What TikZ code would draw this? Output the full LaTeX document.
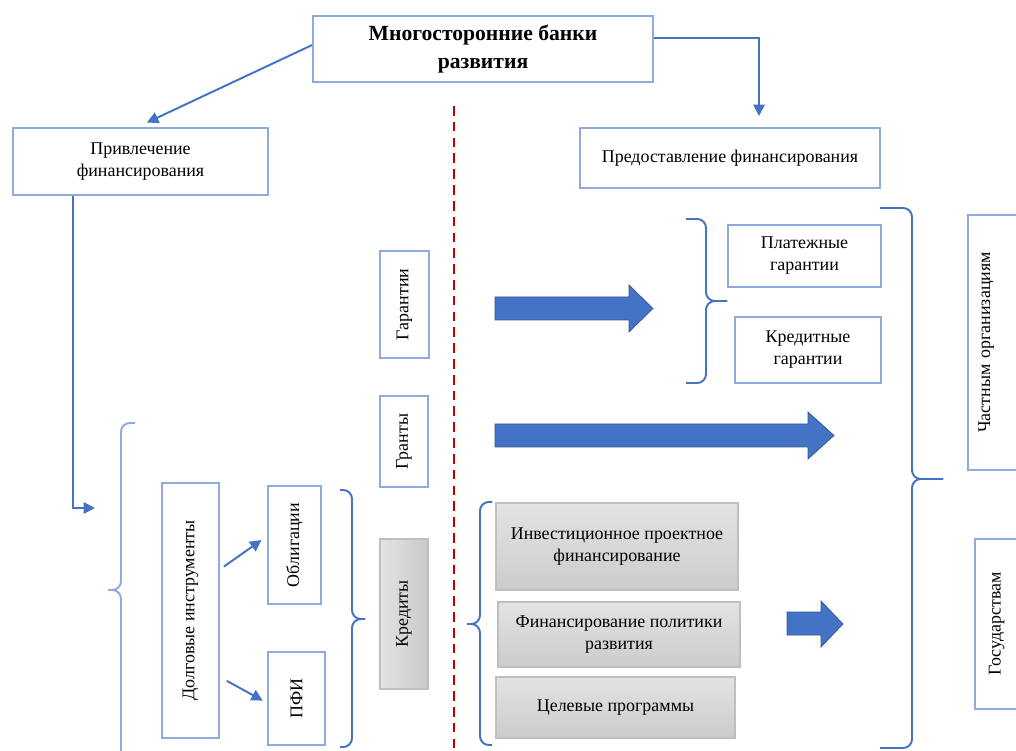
\documentclass[tikz,border=0pt]{standalone}
\usepackage{fontspec}
\setmainfont{Liberation Serif}
\usetikzlibrary{arrows.meta}
\definecolor{boxblue}{HTML}{8FAADC}
\definecolor{linkblue}{HTML}{4472C4}
\definecolor{dashred}{HTML}{C00000}
\pgfdeclarelayer{bg}
\pgfsetlayers{bg,main}
\tikzset{
  box/.style={draw=boxblue, line width=0.9pt, align=center, inner sep=2pt},
  greybox/.style={draw=gray!50, line width=0.6pt, top color=gray!22, bottom color=gray!40, align=center, inner sep=2pt},
  conn/.style={draw=linkblue, line width=1.1pt, -{Triangle[length=6.5pt,width=6.5pt]}},
  bracket/.style={draw=linkblue, line width=1.1pt, rounded corners=5pt},
  fat/.style={fill=linkblue, draw=linkblue!75!black, line width=0.4pt},
}

\begin{document}
\begin{tikzpicture}[font=\fontsize{10.2}{12.5}\selectfont]
        \clip (0cm, 0cm) rectangle (20.32cm, -15.02cm);
        \node (title) [box, minimum width=6.8cm, minimum height=1.32cm, font=\fontsize{12.3}{16}\selectfont\bfseries] at (9.66cm, -0.98cm) {Многосторонние банки\\развития};
        \node (attract) [box, minimum width=5.1cm, minimum height=1.34cm] at (2.81cm, -3.23cm) {Привлечение\\финансирования};
        \node (provide) [box, minimum width=6.0cm, minimum height=1.2cm] at (14.60cm, -3.16cm) {Предоставление финансирования};
        \node (debt) [box, minimum width=1.14cm, minimum height=5.1cm] at (3.81cm, -12.21cm) {\rotatebox{90}{Долговые инструменты}};
        \node (bonds) [box, minimum width=1.06cm, minimum height=2.36cm] at (5.89cm, -10.90cm) {\rotatebox{90}{Облигации}};
        \node (pfi) [box, minimum width=1.14cm, minimum height=1.86cm] at (5.93cm, -13.97cm) {\rotatebox{90}{ПФИ}};
        \node (guar) [box, minimum width=0.98cm, minimum height=2.14cm] at (8.09cm, -6.09cm) {\rotatebox{90}{Гарантии}};
        \node (grants) [box, minimum width=0.96cm, minimum height=1.82cm] at (8.08cm, -8.83cm) {\rotatebox{90}{Гранты}};
        \node (credits) [greybox, left color=gray!22, right color=gray!42, minimum width=0.96cm, minimum height=3.0cm] at (8.08cm, -12.28cm) {\rotatebox{90}{Кредиты}};
        \node (payg) [box, minimum width=3.06cm, minimum height=1.24cm] at (16.09cm, -5.12cm) {Платежные\\гарантии};
        \node (credg) [box, minimum width=2.92cm, minimum height=1.32cm] at (16.16cm, -7.00cm) {Кредитные\\гарантии};
        \node (invest) [greybox, minimum width=4.84cm, minimum height=1.74cm] at (12.34cm, -10.93cm) {Инвестиционное проектное\\финансирование};
        \node (policy) [greybox, minimum width=4.84cm, minimum height=1.30cm] at (12.38cm, -12.69cm) {Финансирование политики\\развития};
        \node (target) [greybox, minimum width=4.78cm, minimum height=1.22cm] at (12.31cm, -14.15cm) {Целевые программы};
        \node (private) [box, anchor=west, inner xsep=6pt, text width=1.2cm, align=left, minimum height=5.10cm] at (19.34cm, -6.85cm) {\rotatebox{90}{Частным организациям}};
        \node (states) [box, anchor=west, inner xsep=8pt, text width=1.2cm, align=left, minimum height=3.40cm] at (19.48cm, -12.48cm) {\rotatebox{90}{Государствам}};
        \coordinate (pin) at (15.18cm, -2.32cm);
        \coordinate (din) at (1.90cm, -10.16cm);
        % separator
        \draw [dashred, line width=1.1pt, dash pattern=on 5.5pt off 3.5pt] (9.08cm, -2.12cm) -- (9.08cm, -15.02cm);
        % brackets
        \draw [bracket, draw=boxblue] (2.70cm, -8.46cm) -| (2.42cm, -11.80cm) -- (2.16cm, -11.80cm);
        \draw [bracket, draw=boxblue] (2.16cm, -11.80cm) -| (2.42cm, -15.30cm);
        \draw [bracket] (6.80cm, -9.80cm) -| (7.04cm, -12.38cm) -- (7.30cm, -12.38cm);
        \draw [bracket] (7.30cm, -12.38cm) -| (7.04cm, -14.94cm) -- (6.80cm, -14.94cm);
        \draw [bracket] (9.84cm, -10.04cm) -| (9.60cm, -12.48cm) -- (9.34cm, -12.48cm);
        \draw [bracket] (9.34cm, -12.48cm) -| (9.60cm, -14.90cm) -- (9.84cm, -14.90cm);
        \draw [bracket] (13.72cm, -4.38cm) -| (14.12cm, -6.02cm) -- (14.54cm, -6.02cm);
        \draw [bracket] (14.54cm, -6.02cm) -| (14.12cm, -7.66cm) -- (13.72cm, -7.66cm);
        \draw [bracket] (17.60cm, -4.16cm) -| (18.24cm, -9.58cm) -- (18.86cm, -9.58cm);
        \draw [bracket] (18.86cm, -9.58cm) -| (18.24cm, -14.96cm) -- (17.60cm, -14.96cm);
        % block arrows
        \draw [fat] (9.90cm, -5.94cm) -- (12.58cm, -5.94cm) -- (12.58cm, -5.70cm) -- (13.06cm, -6.17cm) -- (12.58cm, -6.64cm) -- (12.58cm, -6.40cm) -- (9.90cm, -6.40cm) -- cycle;
        \draw [fat] (9.90cm, -8.48cm) -- (16.16cm, -8.48cm) -- (16.16cm, -8.24cm) -- (16.68cm, -8.71cm) -- (16.16cm, -9.18cm) -- (16.16cm, -8.94cm) -- (9.90cm, -8.94cm) -- cycle;
        \draw [fat] (15.74cm, -12.24cm) -- (16.42cm, -12.24cm) -- (16.42cm, -12.02cm) -- (16.86cm, -12.48cm) -- (16.42cm, -12.94cm) -- (16.42cm, -12.70cm) -- (15.74cm, -12.70cm) -- cycle;
        \begin{pgfonlayer}{bg}
                \draw [conn, shorten >=0.22cm] ([yshift=0.08cm]title.west) -- ([xshift=-0.07cm]attract.north);
                \draw [conn] ([yshift=0.22cm]title.east) -| (pin);
                \draw [conn] ([xshift=-1.35cm]attract.south) |- (din);
                \draw [conn, shorten <=0.1cm, shorten >=0.14cm] ([yshift=0.82cm]debt.east) -- ([yshift=0.18cm]bonds.west);
                \draw [conn, shorten <=0.16cm, shorten >=0.1cm] ([yshift=-1.33cm]debt.east) -- ([yshift=-0.09cm]pfi.west);
        \end{pgfonlayer}
\end{tikzpicture}
\end{document}
